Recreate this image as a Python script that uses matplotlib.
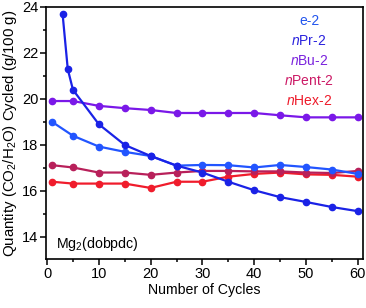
import numpy as np
import matplotlib.pyplot as plt
from matplotlib.ticker import MultipleLocator

plt.rcParams['font.family'] = ['Liberation Sans', 'DejaVu Sans']
plt.rcParams['mathtext.fontset'] = 'custom'
plt.rcParams['mathtext.rm'] = 'Liberation Sans'
plt.rcParams['mathtext.it'] = 'Liberation Sans:italic'

cycles = [1, 5, 10, 15, 20, 25, 30, 35, 40, 45, 50, 55, 60]

e2 = [19.0, 18.4, 17.93, 17.7, 17.52, 17.1, 17.13, 17.12, 17.02, 17.13, 17.04, 16.93, 16.74]

npr_cycles = [3, 4, 5, 10, 15, 20, 25, 30, 35, 40, 45, 50, 55, 60]
npr2 = [23.7, 21.3, 20.4, 18.9, 18.0, 17.52, 17.1, 16.8, 16.4, 16.03, 15.73, 15.52, 15.3, 15.12]

nbu2 = [19.91, 19.91, 19.7, 19.6, 19.52, 19.39, 19.39, 19.39, 19.39, 19.29, 19.2, 19.2, 19.2]
npent2 = [17.12, 17.02, 16.8, 16.8, 16.7, 16.8, 16.87, 16.87, 16.85, 16.85, 16.8, 16.78, 16.87]
nhex2 = [16.4, 16.32, 16.32, 16.32, 16.13, 16.4, 16.4, 16.62, 16.74, 16.8, 16.72, 16.7, 16.62]

labels = ['e-2', '$\\it{n}$Pr-2', '$\\it{n}$Bu-2', '$\\it{n}$Pent-2', '$\\it{n}$Hex-2']
label_colors = ['#2255ee', '#2a22dd', '#7a22dd', '#cc1a66', '#ee1a2a']

fig = plt.figure(figsize=(3.66, 3.08), dpi=100)
ax = fig.add_axes([0.1257, 0.1591, 0.8661, 0.8182])

kw = dict(marker='o', markersize=4.5, linewidth=1.6)
ax.plot(cycles, nhex2, color='#f01c2c', **kw)
ax.plot(cycles, npent2, color='#b8205a', **kw)
ax.plot(cycles, nbu2, color='#7a18e8', **kw)
ax.plot(cycles, e2, color='#2255ff', **kw)
ax.plot(npr_cycles, npr2, color='#1a22e6', **kw)

ax.set_xlim(-0.2, 61)
ax.set_ylim(13.04, 24)
ax.xaxis.set_major_locator(MultipleLocator(10))
ax.xaxis.set_minor_locator(MultipleLocator(5))
ax.yaxis.set_major_locator(MultipleLocator(2))
ax.yaxis.set_minor_locator(MultipleLocator(1))
ax.tick_params(which='major', direction='out', length=4, width=1.1, labelsize=10.5, pad=1.5)
ax.tick_params(which='minor', direction='out', length=2.5, width=1.1)
for s in ax.spines.values():
    s.set_linewidth(1.2)

ax.set_xlabel('Number of Cycles', fontsize=10.2, labelpad=2)
ax.set_ylabel('Quantity (CO$_2$/H$_2$O) Cycled (g/100 g)', fontsize=10.8, labelpad=2)

for i, (t, c) in enumerate(zip(labels, label_colors)):
    ax.text(0.83, 0.945 - i * 0.0794, t, color=c, fontsize=10,
            ha='center', va='center', transform=ax.transAxes)

ax.text(0.03, 0.06, 'Mg$_2$(dobpdc)', fontsize=10.2, transform=ax.transAxes,
        ha='left', va='center')

fig.savefig('out.png', dpi=100)
